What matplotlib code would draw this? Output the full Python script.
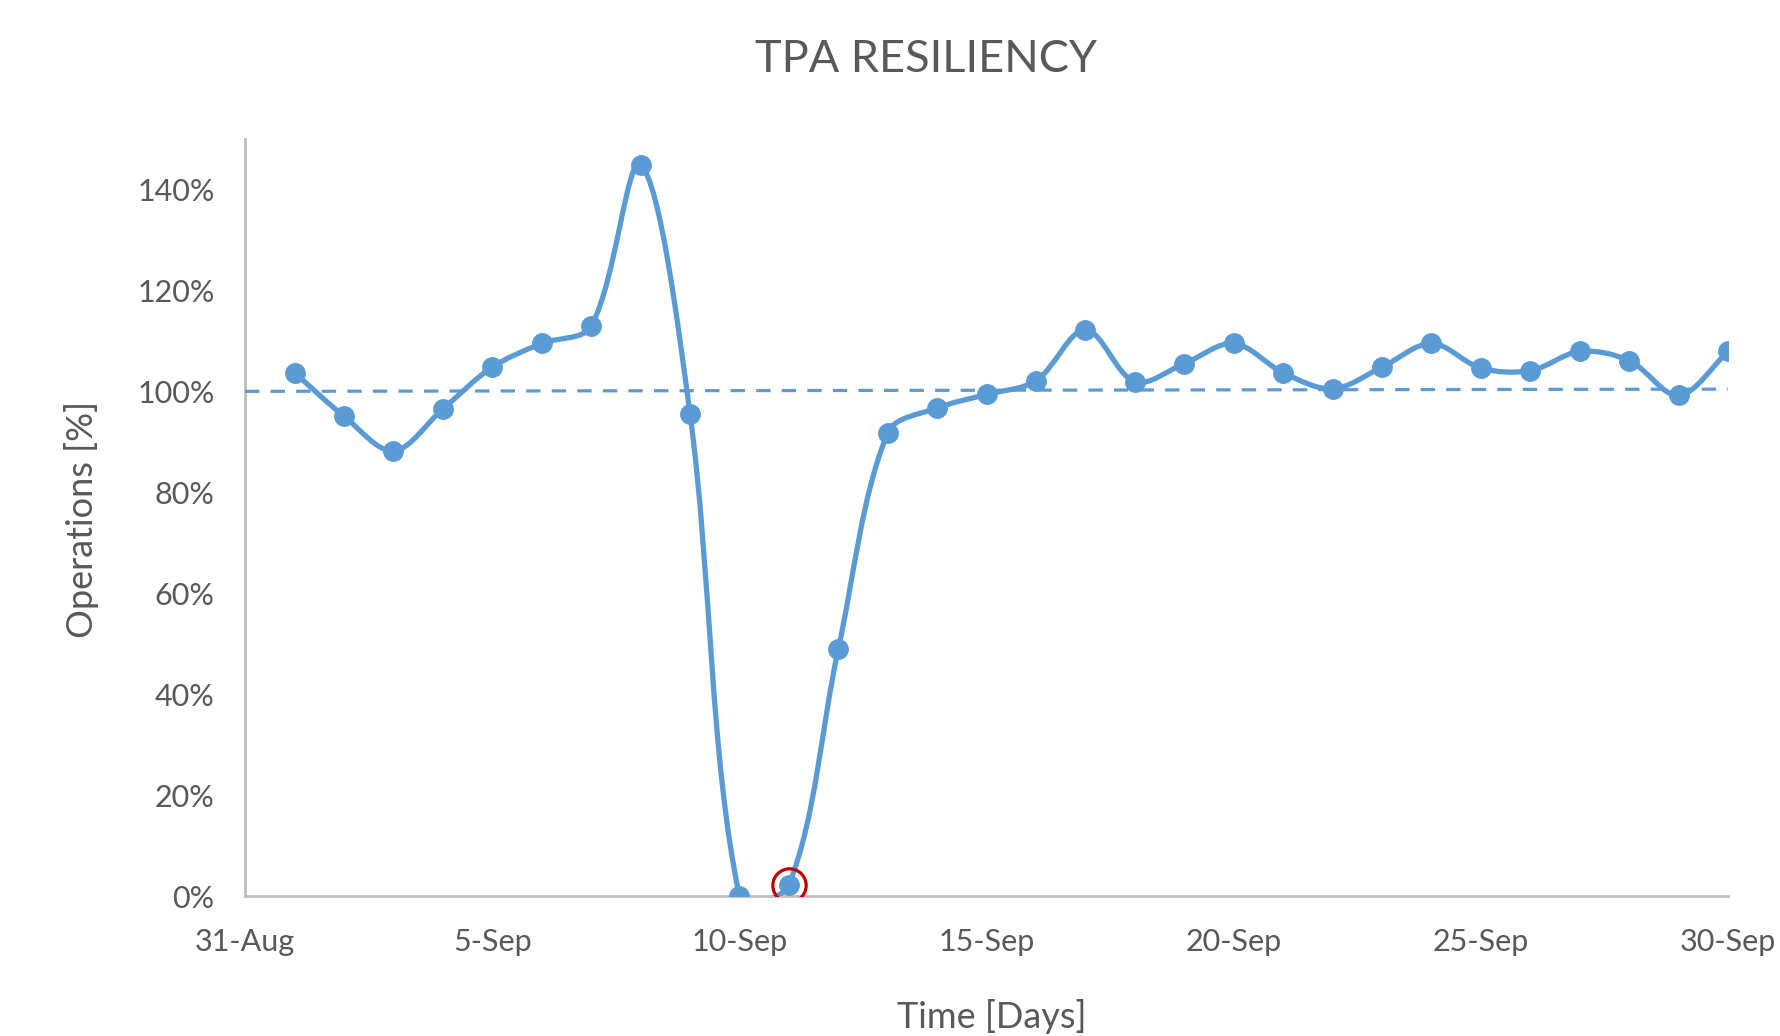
import numpy as np
from matplotlib import pyplot as plt
from matplotlib.path import Path
from matplotlib.patches import PathPatch

plt.rcParams['font.family'] = ['Lato', 'DejaVu Sans']

# Day number counted from 31-Aug (day 0)
days = list(range(1, 31))
operations = [103.7, 95.1, 88.2, 96.5, 104.8, 109.5, 112.9, 144.9, 95.6, 0.0,
              2.2, 48.9, 91.8, 96.7, 99.4, 102.1, 112.2, 101.9, 105.5, 109.5,
              103.7, 100.5, 104.8, 109.5, 104.6, 104.1, 107.9, 106.1, 99.2, 107.9]

tick_days = [0, 5, 10, 15, 20, 25, 30]
tick_labels = ['31-Aug', '5-Sep', '10-Sep', '15-Sep', '20-Sep', '25-Sep', '30-Sep']
y_ticks = [0, 20, 40, 60, 80, 100, 120, 140]

# dashed reference line (start / end)
ref_days = [0, 30.2]
ref_values = [100.0, 100.45]

highlight_day = 11
highlight_value = 2.2

blue = '#5B9BD5'
grey_text = '#595959'
axis_grey = '#BFBFBF'


def smooth_path(ax, x, y):
    # Excel-like smoothed line: chord-weighted tangents, cubic Bezier segments
    x = np.asarray(x, float)
    y = np.asarray(y, float)
    pts = np.column_stack([x, y])
    scr = ax.transData.transform(pts)
    n = len(x)
    seg = np.hypot(*np.diff(scr, axis=0).T)
    c_out = []
    c_in = []
    for i in range(n):
        i0 = max(i - 1, 0)
        i2 = min(i + 1, n - 1)
        tang = pts[i2] - pts[i0]
        d1 = seg[i - 1] if i > 0 else 0.0
        d2 = seg[i] if i < n - 1 else 0.0
        tot = d1 + d2
        c_out.append(pts[i] + tang * (d2 / tot) / 3)
        c_in.append(pts[i] - tang * (d1 / tot) / 3)
    verts = [tuple(pts[0])]
    codes = [Path.MOVETO]
    for i in range(n - 1):
        verts += [tuple(c_out[i]), tuple(c_in[i + 1]), tuple(pts[i + 1])]
        codes += [Path.CURVE4] * 3
    return Path(verts, codes)


fig = plt.figure(figsize=(17.81, 10.36), dpi=100)
ax = fig.add_axes([0.1376, 0.1351, 0.8327, 0.7307])
ax.set_xlim(0, 30)
ax.set_ylim(0, 150)

ax.plot(ref_days, ref_values, color=blue, lw=2.3, dashes=(4.5, 3.5), zorder=2)

ax.add_patch(PathPatch(smooth_path(ax, days, operations), facecolor='none',
                       edgecolor=blue, lw=3.8, capstyle='round',
                       joinstyle='round', zorder=3))
ax.plot(days, operations, 'o', color=blue, markersize=14, zorder=4)

ax.plot([highlight_day], [highlight_value], 'o', markerfacecolor='none',
        markeredgecolor='#C00000', markeredgewidth=2.3, markersize=24, zorder=5)

ax.set_xticks(tick_days)
ax.set_xticklabels(tick_labels)
ax.set_yticks(y_ticks)
ax.set_yticklabels(['{}%'.format(v) for v in y_ticks])
ax.tick_params(length=0, labelsize=22, labelcolor=grey_text)
ax.tick_params(axis='y', pad=22)
ax.tick_params(axis='x', pad=23)

for s in ['top', 'right']:
    ax.spines[s].set_visible(False)
for s in ['left', 'bottom']:
    ax.spines[s].set_color(axis_grey)
    ax.spines[s].set_linewidth(2)
    ax.spines[s].set_zorder(1)

fig.text(0.0456, 0.499, 'Operations [%]', rotation=90, ha='center', va='center',
         fontsize=26, color=grey_text)
fig.text(0.557, 0.002, 'Time [Days]', ha='center', va='bottom',
         fontsize=26, color=grey_text)
fig.text(0.520, 0.943, 'TPA RESILIENCY', ha='center', va='center',
         fontsize=32.5, color=grey_text)

fig.savefig('out.png', dpi=100)
